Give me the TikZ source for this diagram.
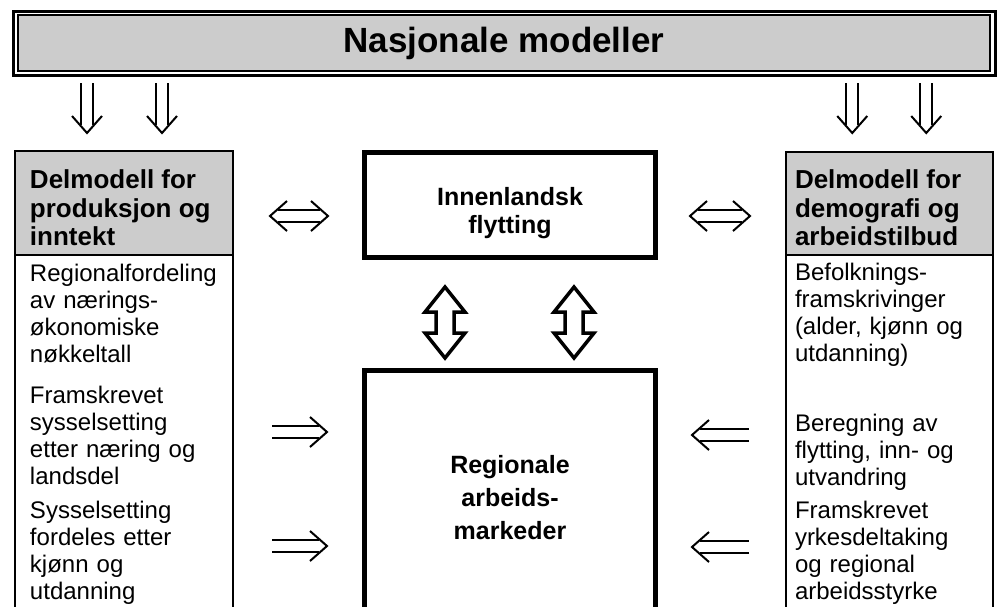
\documentclass[tikz,border=0pt]{standalone}
\usepackage{fontspec}
\setmainfont{Liberation Sans}
\usetikzlibrary{decorations.markings,positioning}
\definecolor{hdrgray}{RGB}{204,204,204}

\begin{document}
\begin{tikzpicture}[
            x = 1pt, y = -1pt, % pixel grid, y pointing down
            outer sep = 0pt,
            frame/.style = {draw, line width=2pt, anchor=north west, inner sep=0pt},
            headbox/.style = {frame, fill=hdrgray},
            midbox/.style = {draw, line width=5pt, anchor=north west, inner sep=0pt,
                             minimum width=291pt},
            headtext/.style = {anchor=north west, inner sep=0pt, align=left,
                               font=\bfseries\fontsize{26}{28.5}\selectfont},
            bodytext/.style = {anchor=north west, inner sep=0pt, align=left, text width=190pt,
                               font=\fontsize{24}{27}\selectfont},
            midtext/.style = {anchor=north, inner sep=0pt, align=center,
                              font=\bfseries\fontsize{25}{28}\selectfont},
            vhead/.style = {draw, line width=2pt, line join=miter, shorten <=0pt, shorten >=0pt, -},
            imp/.style 2 args = {double, double distance=10pt, line width=2pt,
                shorten <=#1, shorten >=#2+8pt,
                postaction={decorate, decoration={markings,
                    mark=at position -#2 with {\draw[vhead] (-17pt,15pt) -- (0pt,0pt) -- (-17pt,-15pt);}}}},
            dimp/.style 2 args = {double, double distance=10pt, line width=2pt,
                shorten <=#1+8pt, shorten >=#2+8pt,
                postaction={decorate, decoration={markings,
                    mark=at position #1 with {\draw[vhead] (17pt,15pt) -- (0pt,0pt) -- (17pt,-15pt);},
                    mark=at position -#2 with {\draw[vhead] (-17pt,15pt) -- (0pt,0pt) -- (-17pt,-15pt);}}}},
            fat/.style = {draw, line width=3.5pt}
        ]

	\useasboundingbox (0,0) rectangle (997,606);

	% top banner
	\node[draw, line width=3pt, minimum width=981.5pt, minimum height=64pt, inner sep=0pt] (banner) at (504.25,43.5) {};
	\node[draw, line width=1.5pt, fill=hdrgray, minimum width=972pt, minimum height=56pt, inner sep=0pt,
	      font=\bfseries\fontsize{35}{40}\selectfont] (title) at (504,43) {Nasjonale modeller};

	% side models
	\node[frame, minimum width=218pt, minimum height=470pt] (prod) at (15,151) {};
	\node[headbox, minimum width=218pt, minimum height=103.5pt] (prodhead) at (15,151) {};
	\node[frame, minimum width=207.5pt, minimum height=470pt] (demo) at (785.5,152) {};
	\node[headbox, minimum width=207.5pt, minimum height=103pt] (demohead) at (785.5,152) {};

	\node[headtext] (prodtitle) at (30,170) {Delmodell for\\produksjon og\\inntekt};
	\node[headtext] (demotitle) at (795,170) {Delmodell for\\demografi og\\arbeidstilbud};

	\node[bodytext] (regpar) at (30,264) {Regionalfordeling\\av nærings-\\økonomiske\\nøkkeltall};
	\node[bodytext] (frampar) at (30,386) {Framskrevet\\sysselsetting\\etter næring og\\landsdel};
	\node[bodytext] (sysspar) at (30,501) {Sysselsetting\\fordeles etter\\kjønn og\\utdanning};

	\node[bodytext] (befpar) at (795,263) {Befolknings-\\framskrivinger\\(alder, kjønn og\\utdanning)};
	\node[bodytext] (berpar) at (795,414) {Beregning av\\flytting, inn- og\\utvandring};
	\node[bodytext] (yrkpar) at (795,501) {Framskrevet\\yrkesdeltaking\\og regional\\arbeidsstyrke};

	% middle boxes
	\node[midbox, minimum height=105pt] (flyt) at (364.5,152.5) {};
	\node[midbox, minimum height=260pt] (marked) at (364.5,370.5) {};
	\node[midtext, below=34.5pt of flyt.north] (flyttxt) {Innenlandsk\\flytting};
	\node[midtext, font=\bfseries\fontsize{25}{33}\selectfont, below=85pt of marked.north] (markedtxt)
	     {Regionale\\arbeids-\\markeder};

	% arrows from the national models
	\foreach \dx in {-37,38} {
		\coordinate (p) at ([xshift=\dx]prod.north);
		\draw[imp={7.5pt}{18pt}] (p |- banner.south) -- (p);
	}
	\foreach \dx in {-37,37} {
		\coordinate (q) at ([xshift=\dx]demo.north);
		\draw[imp={7.5pt}{19pt}] (q |- banner.south) -- (q);
	}

	% exchange with migration
	\coordinate (l) at ([yshift=-11]flyt.west);
	\coordinate (r) at ([yshift=-11]flyt.east);
	\draw[dimp={37pt}{36.5pt}] (l -| prod.east) -- (l);
	\draw[dimp={34.5pt}{35.5pt}] (r) -- (r -| demo.west);

	\foreach \dx in {-65,64}
		\draw[fat] ([xshift=\dx]flyt.south) ++(0,29.5) -- ++(20,25) -- ++(-11,0) -- ++(0,21)
		      -- ++(11,0) -- ++(-20,25) -- ++(-20,-25) -- ++(11,0) -- ++(0,-21) -- ++(-11,0) -- cycle;

	% inputs to the regional labour markets
	\coordinate (f1) at ([yshift=-46]frampar.north east);
	\coordinate (f2) at ([yshift=-45]sysspar.north east);
	\coordinate (g1) at ([yshift=-21]berpar.north west);
	\coordinate (g2) at ([yshift=-46]yrkpar.north west);
	\draw[imp={52pt}{37.5pt}] (f1) -- (f1 -| marked.west);
	\draw[imp={52pt}{37.5pt}] (f2) -- (f2 -| marked.west);
	\draw[imp={46pt}{36.5pt}] (g1) -- (g1 -| marked.east);
	\draw[imp={46pt}{36.5pt}] (g2) -- (g2 -| marked.east);

\end{tikzpicture}
\end{document}
